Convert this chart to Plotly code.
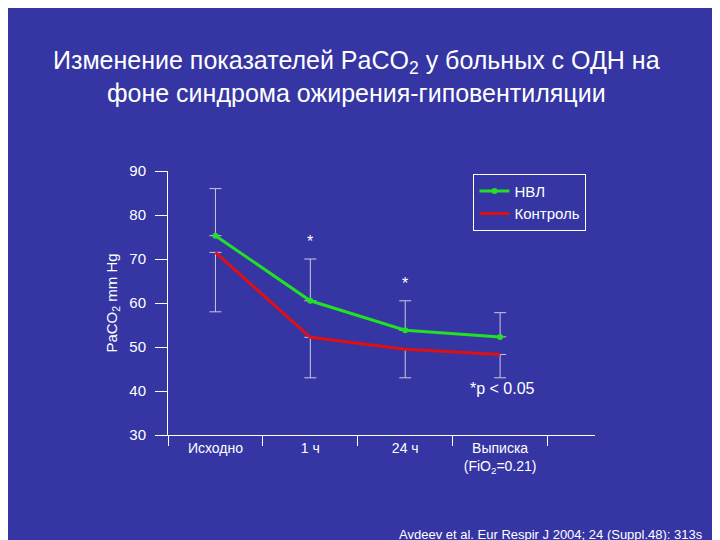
import plotly.graph_objects as go

categories = ["Исходно", "1 ч", "24 ч", "Выписка<br>(FiO<sub>2</sub>=0.21)"]
nvl = [75.3, 60.5, 53.8, 52.3]
nvl_upper = [86, 70, 60.5, 57.8]
control = [71.5, 52.2, 49.5, 48.3]
control_lower = [58, 43, 43, 43]

x = list(range(len(categories)))
bg = "#3535a4"
white = "white"

fig = go.Figure()
fig.add_trace(go.Scatter(
    x=x, y=nvl, mode="lines+markers", name="НВЛ",
    line=dict(color="#22e022", width=3), marker=dict(size=6, color="#22e022"),
    error_y=dict(type="data", symmetric=False,
                 array=[u - v for u, v in zip(nvl_upper, nvl)], arrayminus=[0] * 4,
                 color="#c8c8e0", thickness=1, width=6),
))
fig.add_trace(go.Scatter(
    x=x, y=control, mode="lines", name="Контроль",
    line=dict(color="#e01010", width=3),
    error_y=dict(type="data", symmetric=False, array=[0] * 4,
                 arrayminus=[v - l for v, l in zip(control, control_lower)],
                 color="#c8c8e0", thickness=1, width=6),
))

fig.update_layout(
    width=720, height=540, paper_bgcolor=bg, plot_bgcolor=bg,
    margin=dict(l=160, r=133, t=163, b=113),
    font=dict(family="Liberation Sans, Arial", color=white, size=14),
    showlegend=True,
    legend=dict(x=0.98, y=0.99, xanchor="right", yanchor="top",
                bgcolor=bg, bordercolor=white, borderwidth=1,
                font=dict(size=15, color=white)),
    xaxis=dict(range=[-0.5, 4.0], tickvals=x, ticktext=categories,
               showgrid=False, zeroline=False, showline=True, linecolor=white,
               linewidth=1, ticks="", tickfont=dict(size=14),
               minor=dict(tick0=0.5, dtick=1, ticks="outside", ticklen=10,
                          tickcolor=white, showgrid=False)),
    yaxis=dict(range=[30, 90], tickvals=[30, 40, 50, 60, 70, 80, 90],
               showgrid=False, zeroline=False, showline=True, linecolor=white,
               ticks="outside", ticklen=12, tickcolor=white, tickfont=dict(size=15),
               ticklabelstandoff=6,
               title=dict(text="PaCO<sub>2</sub> mm Hg", font=dict(size=15), standoff=8)),
    annotations=[
        dict(text="Изменение показателей PaCO<sub>2</sub> у больных с ОДН на<br>фоне синдрома ожирения-гиповентиляции",
             xref="paper", yref="paper", x=0.5, y=1.0, xanchor="center", yanchor="bottom",
             xshift=-25, yshift=62, showarrow=False, font=dict(size=25, color=white)),
        dict(text="*", x=1, y=74, xref="x", yref="y", showarrow=False, font=dict(size=16)),
        dict(text="*", x=2, y=64.5, xref="x", yref="y", showarrow=False, font=dict(size=16)),
        dict(text="*p &lt; 0.05", x=3.03, y=40.5, xref="x", yref="y", showarrow=False,
             font=dict(size=16)),
        dict(text="<u>Avdeev et al. Eur Respir J 2004; 24 (Suppl.48): 313s</u>",
             xref="paper", yref="paper", x=1.0, y=0, xanchor="right", yanchor="top",
             xshift=110, yshift=-90, showarrow=False, font=dict(size=13, color=white)),
    ],
)

fig.write_html("out.html")
